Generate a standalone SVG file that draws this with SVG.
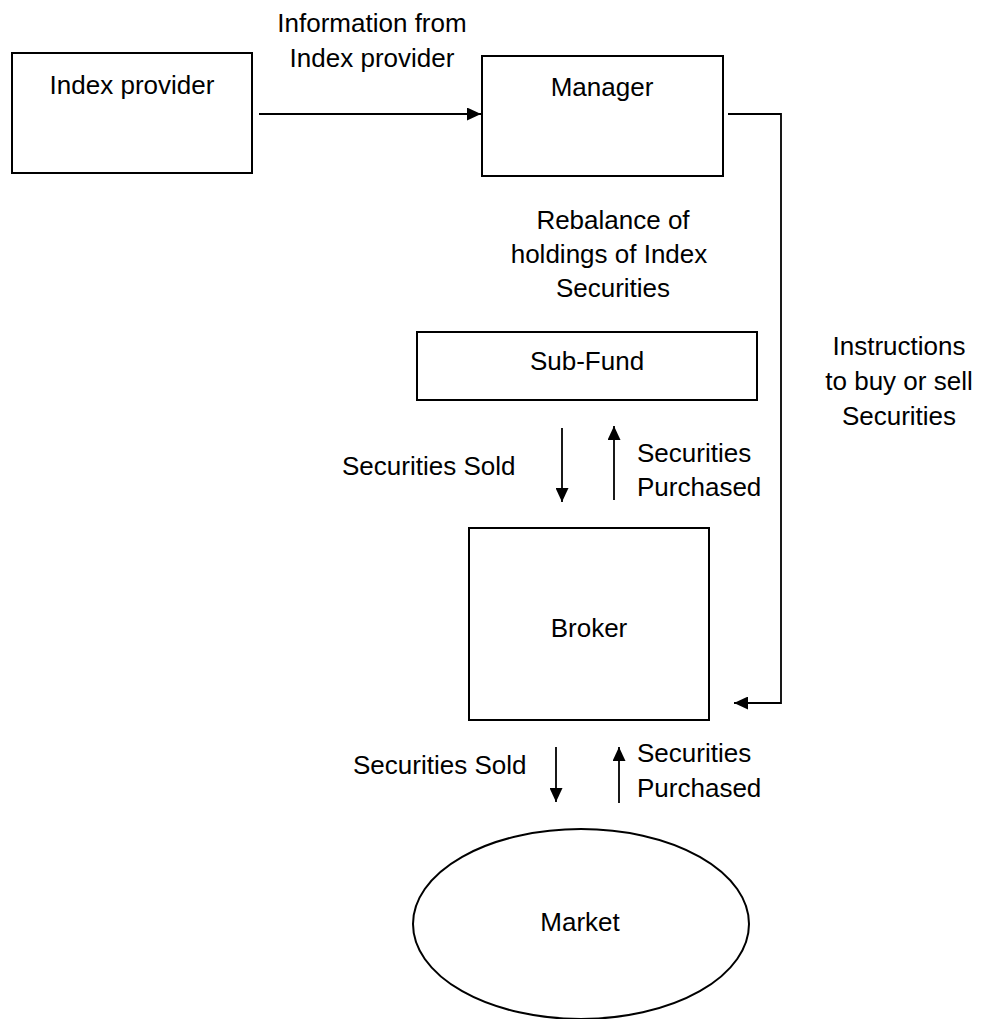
<svg xmlns="http://www.w3.org/2000/svg" width="981" height="1019" viewBox="0 0 981 1019">
<style>
.box{fill:#fff;stroke:#000;stroke-width:2}
.ln{fill:none;stroke:#000;stroke-width:1.8}
text{font-family:"Liberation Sans",Arial,sans-serif;font-size:26px;fill:#000}
.c{text-anchor:middle}
</style>
<defs>
<marker id="ah" viewBox="0 0 14 13" refX="14" refY="6.5" markerWidth="14" markerHeight="13" markerUnits="userSpaceOnUse" orient="auto">
<path d="M0,0 L14,6.5 L0,13 z" fill="#000"/>
</marker>
</defs>
<rect width="981" height="1019" fill="#fff"/>
<g id="index-provider">
<rect class="box" x="12" y="53" width="240" height="120"/>
<text class="c" x="132" y="94">Index provider</text>
</g>
<g id="manager">
<rect class="box" x="482" y="56" width="241" height="120"/>
<text class="c" x="602" y="96">Manager</text>
</g>
<g id="sub-fund">
<rect class="box" x="417" y="332" width="340" height="68"/>
<text class="c" x="587" y="370">Sub-Fund</text>
</g>
<g id="broker">
<rect class="box" x="469" y="528" width="240" height="192"/>
<text class="c" x="589" y="637">Broker</text>
</g>
<g id="market">
<ellipse class="box" cx="581" cy="924" rx="168" ry="95"/>
<text class="c" x="580" y="931">Market</text>
</g>
<g id="connectors">
<line class="ln" x1="259" y1="114" x2="481" y2="114" marker-end="url(#ah)"/>
<polyline class="ln" points="728,114 781,114 781,703 734,703" marker-end="url(#ah)"/>
<line class="ln" x1="562" y1="428" x2="562" y2="502" marker-end="url(#ah)"/>
<line class="ln" x1="614" y1="500" x2="614" y2="426" marker-end="url(#ah)"/>
<line class="ln" x1="556" y1="747" x2="556" y2="802" marker-end="url(#ah)"/>
<line class="ln" x1="619" y1="803" x2="619" y2="747" marker-end="url(#ah)"/>
</g>
<g id="labels">
<text class="c" x="372" y="32">Information from</text>
<text class="c" x="372" y="67">Index provider</text>
<text class="c" x="613" y="229">Rebalance of</text>
<text class="c" x="609" y="263">holdings of Index</text>
<text class="c" x="613" y="297">Securities</text>
<text class="c" x="899" y="355">Instructions</text>
<text class="c" x="899" y="390">to buy or sell</text>
<text class="c" x="899" y="425">Securities</text>
<text x="342" y="475">Securities Sold</text>
<text x="637" y="462">Securities</text>
<text x="637" y="496">Purchased</text>
<text x="353" y="774">Securities Sold</text>
<text x="637" y="762">Securities</text>
<text x="637" y="797">Purchased</text>
</g>
</svg>
